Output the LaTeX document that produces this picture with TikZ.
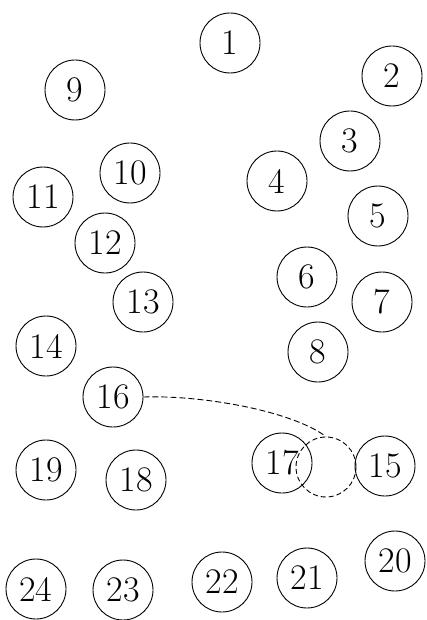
\documentclass[tikz,border=0pt]{standalone}
\begin{document}
\begin{tikzpicture}[x=1pt,y=-1pt,
  num/.style={draw,circle,line width=0.9pt,minimum size=60pt,inner sep=0pt,
    font=\fontsize{36}{36}\selectfont},
  ghost/.style={draw,circle,line width=0.9pt,minimum size=60pt,inner sep=0pt,
    dash pattern=on 5pt off 3pt},
  link/.style={line width=0.9pt,dash pattern=on 6pt off 3pt}]
\useasboundingbox (0,0) rectangle (426,620);
\node[num] (n1) at (230,43) {1};
\node[num] (n2) at (392,76) {2};
\node[num] (n3) at (350,141) {3};
\node[num] (n4) at (277,181) {4};
\node[num] (n5) at (378,216) {5};
\node[num] (n6) at (307,277) {6};
\node[num] (n7) at (382,302) {7};
\node[num] (n8) at (318,352) {8};
\node[num] (n9) at (75,90) {9};
\node[num] (n10) at (130,173) {10};
\node[num] (n11) at (43,197) {11};
\node[num] (n12) at (105,243) {12};
\node[num] (n13) at (143,302) {13};
\node[num] (n14) at (46,346) {14};
\node[num] (n15) at (385,466) {15};
\node[num] (n16) at (113,397) {16};
\node[num] (n17) at (282,463) {17};
\node[num] (n18) at (136,480) {18};
\node[num] (n19) at (46,470) {19};
\node[num] (n20) at (395,561) {20};
\node[num] (n21) at (307,578) {21};
\node[num] (n22) at (222,582) {22};
\node[num] (n23) at (123,590) {23};
\node[num] (n24) at (36,589) {24};
\node[ghost] (dc) at (326,467) {};
\draw[link] (n16.east) .. controls (200,395) and (290,410) .. (dc.north);
\end{tikzpicture}
\end{document}
